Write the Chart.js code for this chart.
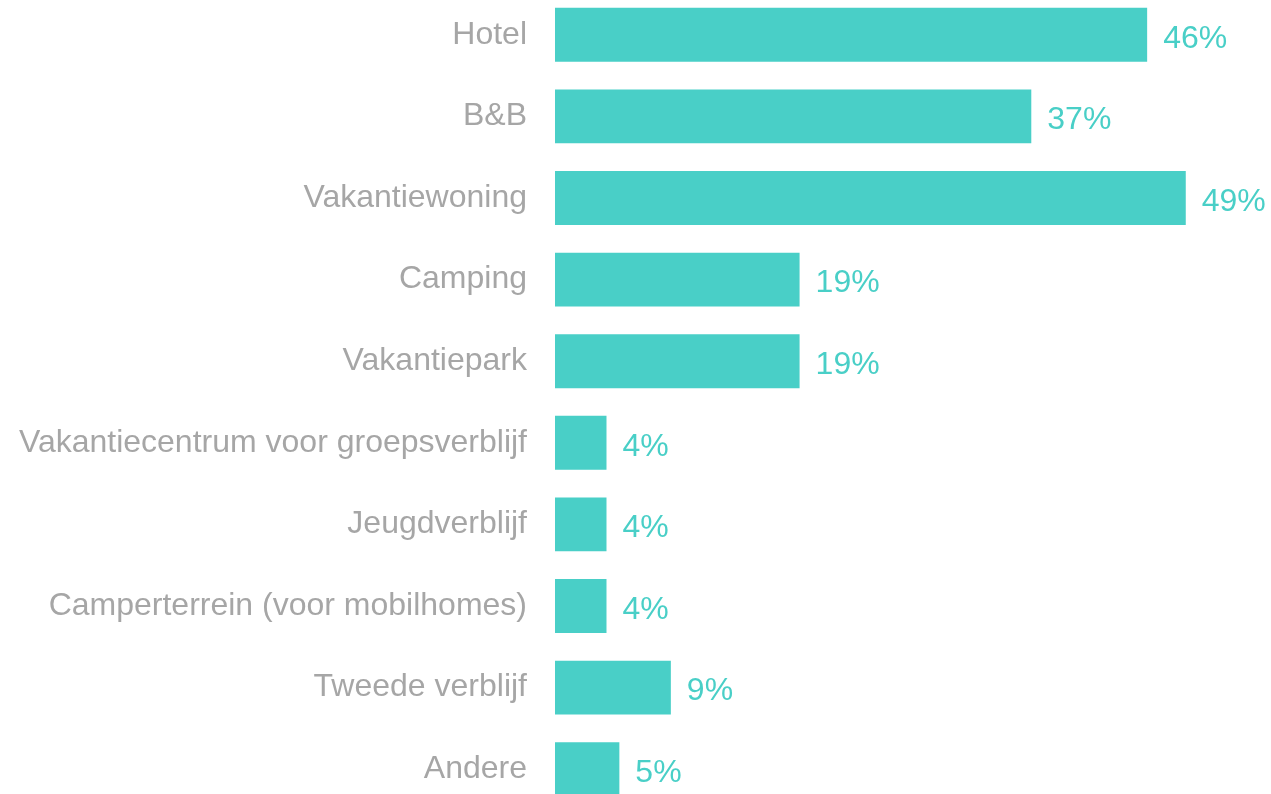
<!DOCTYPE html>
<html>
<head>
<meta charset="utf-8">
<title>Verblijfstype</title>
<script src="https://cdn.jsdelivr.net/npm/chart.js@4/dist/chart.umd.min.js"></script>
<style>
    html, body { margin: 0; padding: 0; background: #fff; overflow: hidden; }
    #wrap { position: absolute; left: 0; top: -6px; width: 1271px; height: 816px; }
</style>
</head>
<body>
<div id="wrap"><canvas id="myChart"></canvas></div>
<script>
// categorieën en percentages
var labelList = ['Hotel', 'B&B', 'Vakantiewoning', 'Camping', 'Vakantiepark',
    'Vakantiecentrum voor groepsverblijf', 'Jeugdverblijf',
    'Camperterrein (voor mobilhomes)', 'Tweede verblijf', 'Andere'];
var valueList = [46, 37, 49, 19, 19, 4, 4, 4, 9, 5];

var barColor = '#49CFC7';
var textColor = '#A6A6A6';
var fontFamily = 'Arial, "Liberation Sans", sans-serif';

// waarde rechts naast de balk tekenen
var valueLabels = {
    id: 'valueLabels',
    afterDatasetsDraw: function(chart) {
        var ctx = chart.ctx;
        var meta = chart.getDatasetMeta(0);
        ctx.save();
        ctx.font = '32px ' + fontFamily;
        ctx.fillStyle = barColor;
        ctx.textAlign = 'left';
        ctx.textBaseline = 'middle';
        meta.data.forEach(function(bar, i) {
            ctx.fillText(valueList[i] + '%', bar.x + 16, bar.y + 4);
        });
        ctx.restore();
    }
};

const ctx = document.getElementById('myChart').getContext('2d');
var myChart = new Chart(ctx, {
    type: 'bar',
    data: {
        labels: labelList,
        datasets: [{
            data: valueList,
            backgroundColor: barColor,
            borderWidth: 0,
            categoryPercentage: 1,
            barPercentage: 0.66
        }]
    },
    options: {
        indexAxis: 'y',
        responsive: true,
        maintainAspectRatio: false,
        animation: false,
        layout: { padding: { left: 0, right: 8, top: 0, bottom: 0 } },
        plugins: {
            legend: { display: false },
            tooltip: { enabled: false }
        },
        scales: {
            x: {
                display: false,
                min: 0,
                max: 55
            },
            y: {
                grid: { display: false, drawTicks: false },
                border: { display: false },
                ticks: {
                    color: textColor,
                    padding: 28,
                    font: { size: 32, family: fontFamily }
                },
                afterFit: function(scale) {
                    scale.width = 555;
                    // geen extra ruimte boven/onder voor de labels
                    scale.paddingTop = 0;
                    scale.paddingBottom = 0;
                }
            }
        }
    },
    plugins: [valueLabels]
});
</script>
</body>
</html>
